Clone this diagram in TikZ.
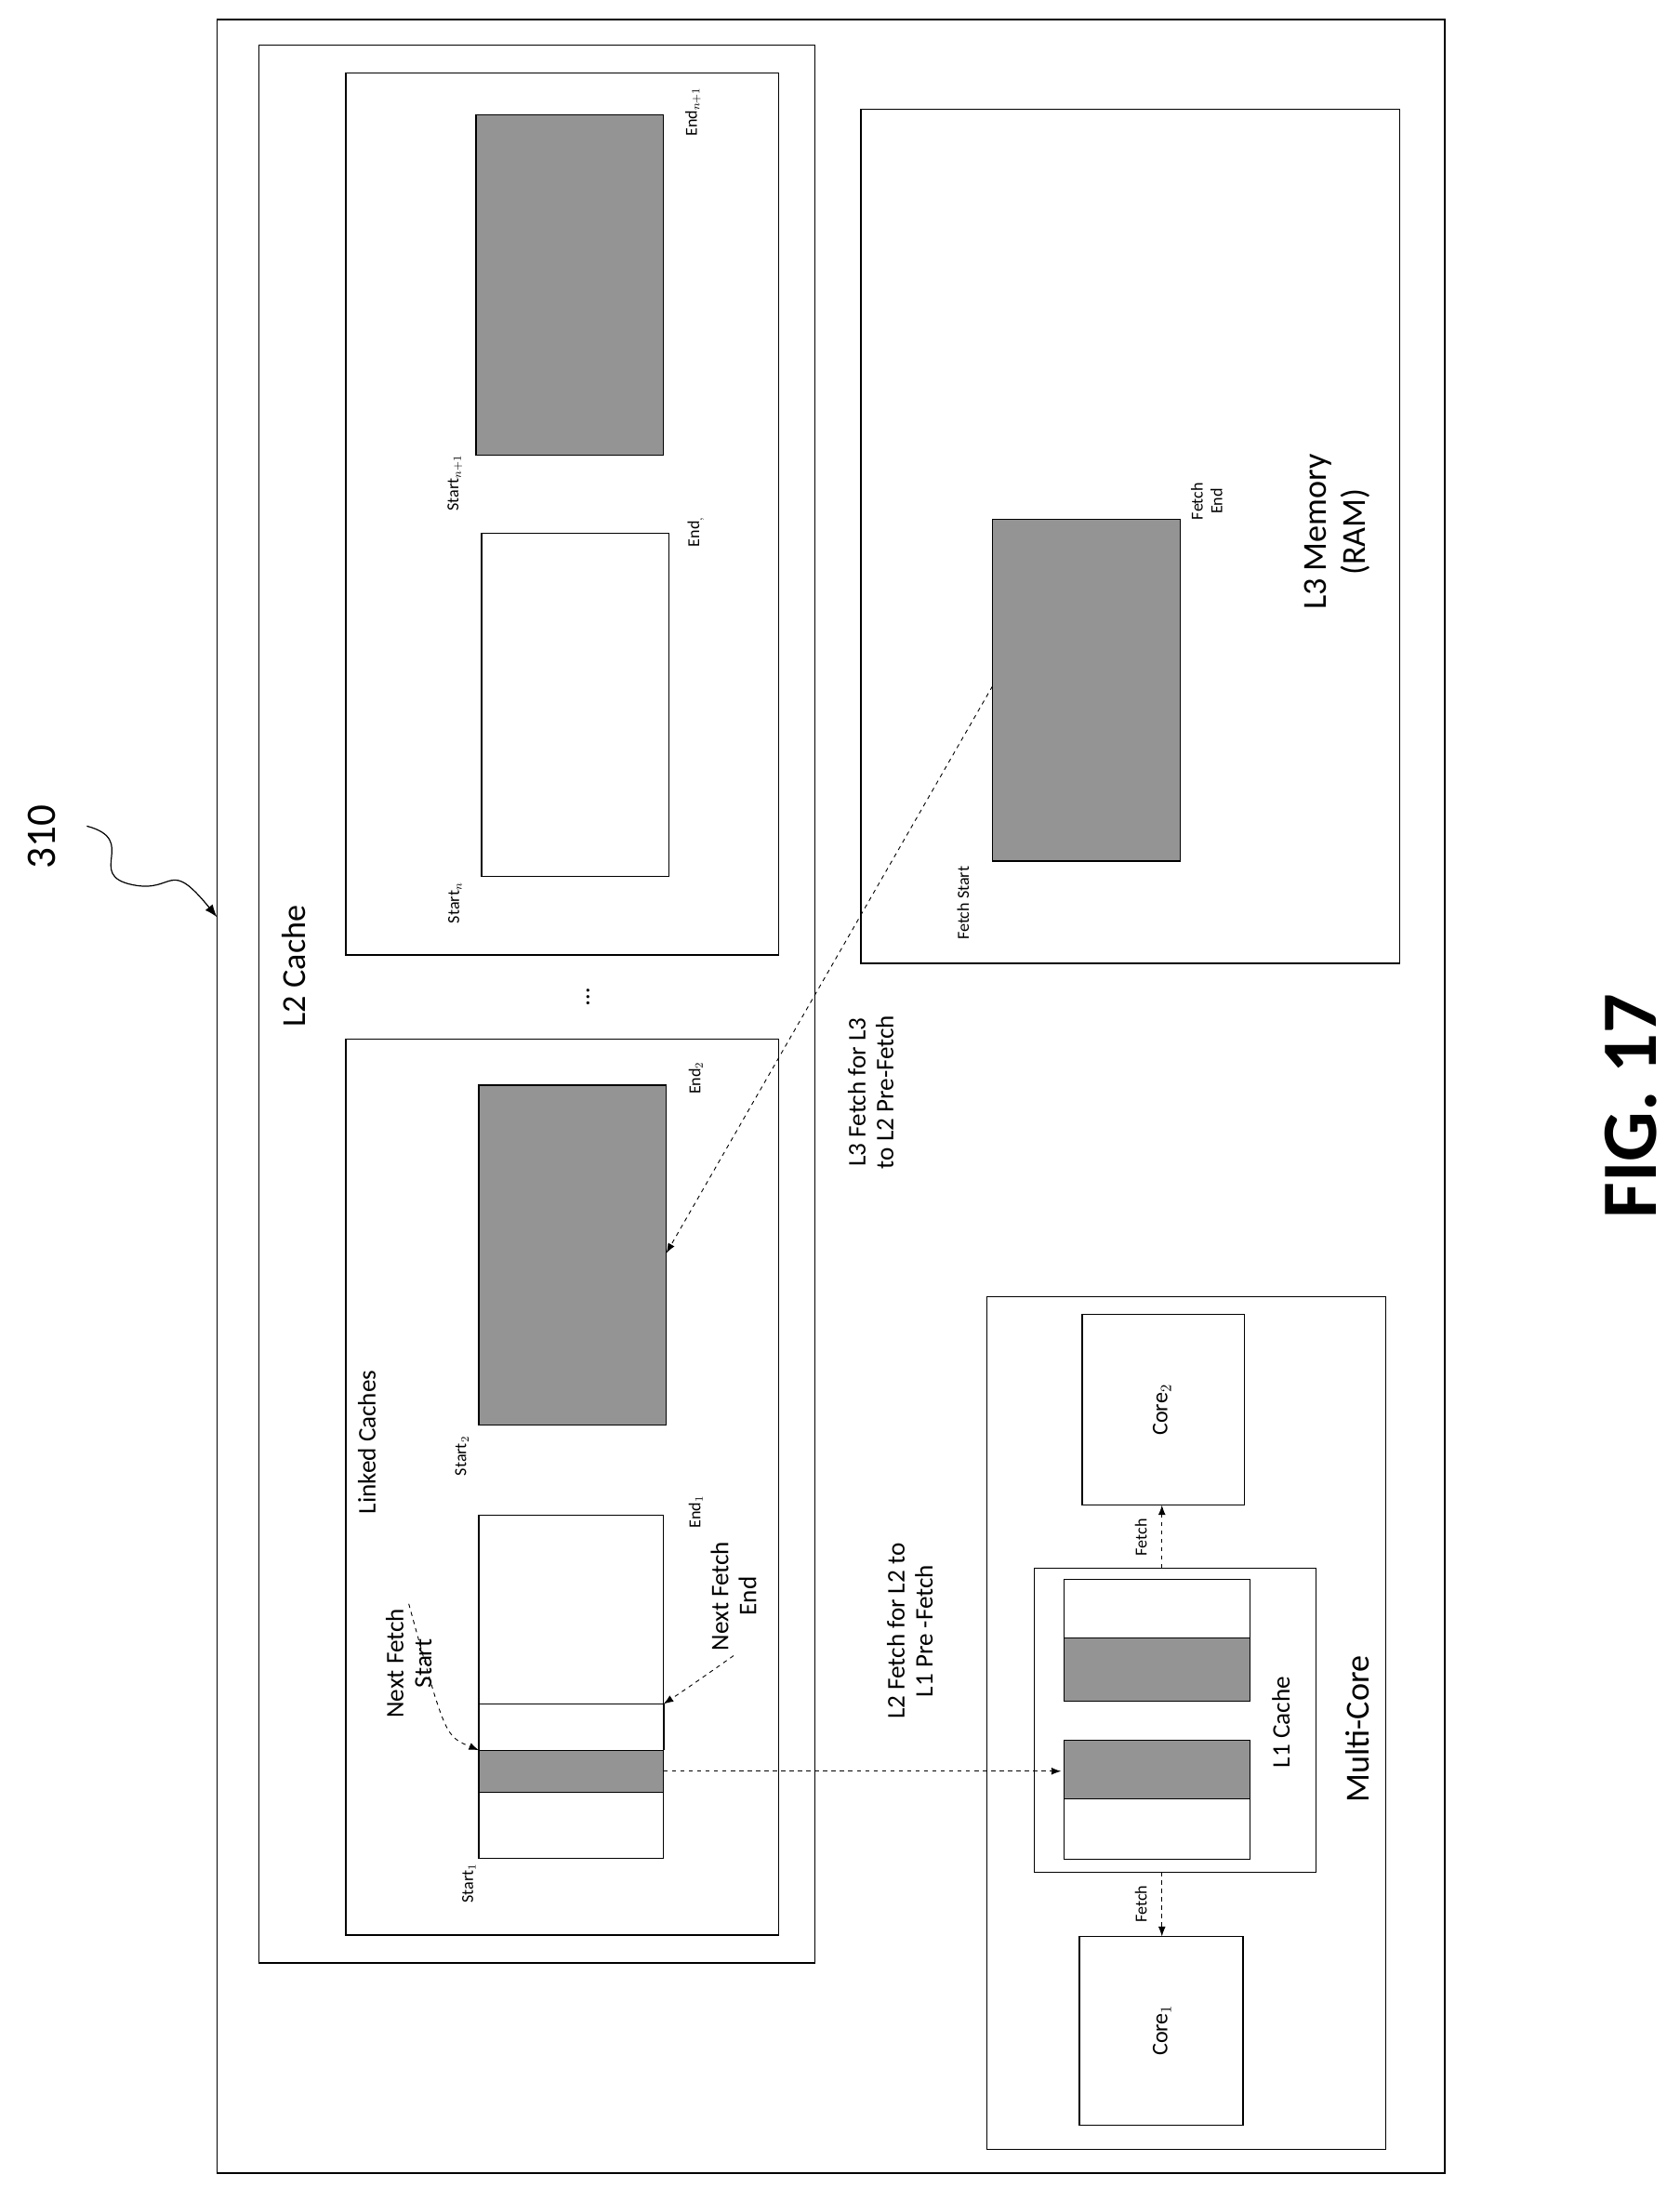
\documentclass[tikz,border=0pt]{standalone}
\usepackage{fontspec}
\setmainfont{Carlito}
\usetikzlibrary{arrows.meta}
\begin{document}
\begin{tikzpicture}[x=1pt, y=-1pt,
    frame/.style={draw, line width=0.8pt},
    shade/.style={frame, fill=black!42},
    small/.style={font=\fontsize{12}{14}\selectfont, rotate=90},
    mid/.style={font=\fontsize{18}{20}\selectfont, rotate=90, align=center},
    big/.style={font=\fontsize{24}{28}\selectfont, rotate=90, align=center},
    fetchline/.style={dashed, line width=0.6pt, -{Latex[length=7pt]}}]
    \useasboundingbox (0,0) rectangle (1200,1572);
    % frames
    \draw[frame] (155,14) rectangle (1032,1552);
    \draw[frame] (185,32) rectangle (582,1402);
    \draw[frame] (247,742) rectangle (556,1382);
    \draw[frame] (247,52) rectangle (556,682);
    \draw[frame] (615,78) rectangle (1000,688);
    \draw[frame] (705,926) rectangle (990,1535);
    % linked caches
    \draw[frame] (342,1082) rectangle (474,1327);
    \draw[shade] (342,1250) rectangle (474,1280);
    \draw[frame] (342,1217) -- (474,1217);
    \draw[line width=1.6pt] (474,1217) -- (474,1250);
    \draw[shade] (342,775) rectangle (476,1018);
    \draw[frame] (344,381) rectangle (478,626);
    \draw[shade] (340,82) rectangle (474,325);
    \draw[shade] (709,371) rectangle (843,615);
    % multi-core
    \draw[frame] (771,1383) rectangle (888,1518);
    \draw[frame] (773,939) rectangle (889,1075);
    \draw[frame] (739,1120) rectangle (940,1337);
    \draw[frame] (760,1128) rectangle (893,1215);
    \draw[shade] (760,1170) rectangle (893,1215);
    \draw[frame] (760,1243) rectangle (893,1328);
    \draw[shade] (760,1243) rectangle (893,1285);
    % anchor points
    \coordinate (blk1) at (474,1265);
    \coordinate (l1in) at (758,1265);
    \coordinate (ramout) at (709,490);
    \coordinate (blk2) at (476,895);
    \coordinate (l1top) at (830,1337);
    \coordinate (core1) at (830,1383);
    \coordinate (l1bot) at (830,1120);
    \coordinate (core2) at (830,1075);
    \coordinate (nfs) at (342,1250);
    \coordinate (nfe) at (474,1217);
    % labels
    \node[big] (l2) at (210,690) {L2 Cache};
    \node[mid] (lc) at (262,1030) {Linked Caches};
    \node[mid] (dots) at (420,712) {\dots};
    \node[small] (s1) at (335,1345) {Start$_1$};
    \node[small] (e1) at (497,1080) {End$_1$};
    \node[small] (s2) at (330,1040) {Start$_2$};
    \node[small] (e2) at (497,770) {End$_2$};
    \node[small] (sn) at (325,645) {Start$_n$};
    \node[small] (en) at (497,380) {End$_,$};
    \node[small] (sn1) at (325,345) {Start$_{n+1}$};
    \node[small] (en1) at (495,80) {End$_{n+1}$};
    \node[small] (fs) at (688,645) {Fetch Start};
    \node[small, align=center] (fe) at (862,358) {Fetch\\End};
    \node[big] (ram) at (955,380) {L3 Memory\\(RAM)};
    \node[big] (mc) at (970,1235) {Multi-Core};
    \node[mid, font=\fontsize{16}{18}\selectfont] (c1) at (830,1450) {Core$_1$};
    \node[mid, font=\fontsize{16}{18}\selectfont] (c2) at (830,1007) {Core$_2$};
    \node[mid] (l1) at (915,1230) {L1 Cache};
    \node[mid] (nfst) at (292,1188) {Next Fetch\\Start};
    \node[mid] (nfen) at (524,1140) {Next Fetch\\End};
    \node[mid] (l2f) at (650,1165) {L2 Fetch for L2 to\\L1 Pre -Fetch};
    \node[mid] (l3f) at (622,780) {L3 Fetch for L3\\to L2 Pre-Fetch};
    \node[small] (f1) at (815,1360) {Fetch};
    \node[small] (f2) at (815,1098) {Fetch};
    % connectors
    \draw[fetchline] (blk1) -- (l1in);
    \draw[fetchline] (ramout) -- (blk2);
    \draw[fetchline] (l1top) -- (core1);
    \draw[fetchline] (l1bot) -- (core2);
    \draw[fetchline] (nfst.east) .. controls (318,1240) .. (nfs);
    \draw[fetchline] (nfen.west) .. controls (492,1205) .. (nfe);
    % reference numeral and figure title
    \node[font=\fontsize{30}{34}\selectfont, rotate=90] (num) at (30,598) {310};
    \draw[line width=0.8pt, -{Latex[length=9pt]}] (62,590) .. controls (100,600) and (60,625) .. (95,632)
        .. controls (125,638) and (120,612) .. (155,655);
    \node[font=\fontsize{56}{60}\selectfont\bfseries, rotate=90] (fig) at (1165,790) {FIG. 17};
\end{tikzpicture}
\end{document}
